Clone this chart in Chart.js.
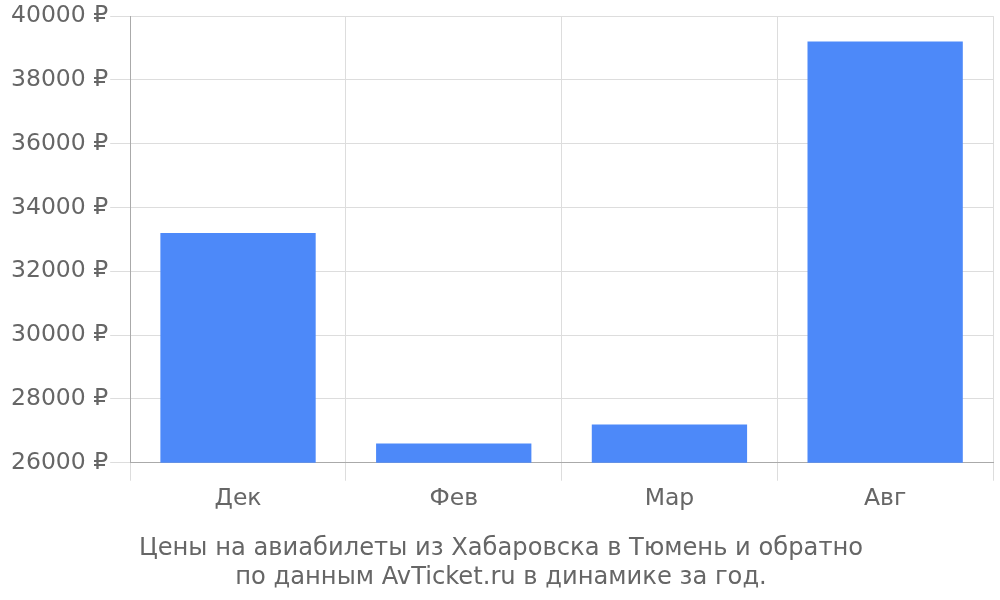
<!DOCTYPE html>
<html>
<head>
<meta charset="utf-8">
<script src="https://cdn.jsdelivr.net/npm/chart.js@4"></script>
<style>
  html, body { margin: 0; padding: 0; background: #fff; }
  .wrap { width: 1000px; height: 600px; }
</style>
</head>
<body>
<div class="wrap"><canvas id="chart"></canvas></div>
<script>
const months = ["Дек", "Фев", "Мар", "Авг"];
const prices = [33200, 26600, 27200, 39200];
const titleLines = [
  "Цены на авиабилеты из Хабаровска в Тюмень и обратно",
  "по данным AvTicket.ru в динамике за год."
];

Chart.defaults.font.family = "'DejaVu Sans', sans-serif";
Chart.defaults.color = "#666";

new Chart(document.getElementById("chart").getContext("2d"), {
  type: "bar",
  data: {
    labels: months,
    datasets: [
      {
        label: "price",
        data: prices,
        backgroundColor: "#4d89f9",
        borderWidth: 0,
        categoryPercentage: 1,
        barPercentage: 0.72,
      },
    ],
  },
  options: {
    responsive: true,
    maintainAspectRatio: false,
    animation: false,
    layout: { padding: { top: 0, right: 7, left: 9, bottom: 8 } },
    plugins: {
      legend: { display: false },
      tooltip: { enabled: false },
      title: {
        display: true,
        position: "bottom",
        text: titleLines,
        color: "#666",
        font: { size: 24.2, weight: "normal" },
        lineHeight: 1.17,
        padding: { top: 17, bottom: 0 },
      },
    },
    scales: {
      x: {
        grid: { color: "#ddd", tickLength: 18, offset: true },
        border: { color: "#aaa" },
        ticks: { font: { size: 23.5 }, color: "#666", padding: 4 },
      },
      y: {
        min: 26000,
        max: 40000,
        grid: { color: "#ddd", tickLength: 20 },
        border: { color: "#aaa" },
        ticks: {
          stepSize: 2000,
          font: { size: 23.5 },
          color: "#666",
          padding: 2,
          callback: (v) => v + " ₽",
        },
      },
    },
  },
});
</script>
</body>
</html>
